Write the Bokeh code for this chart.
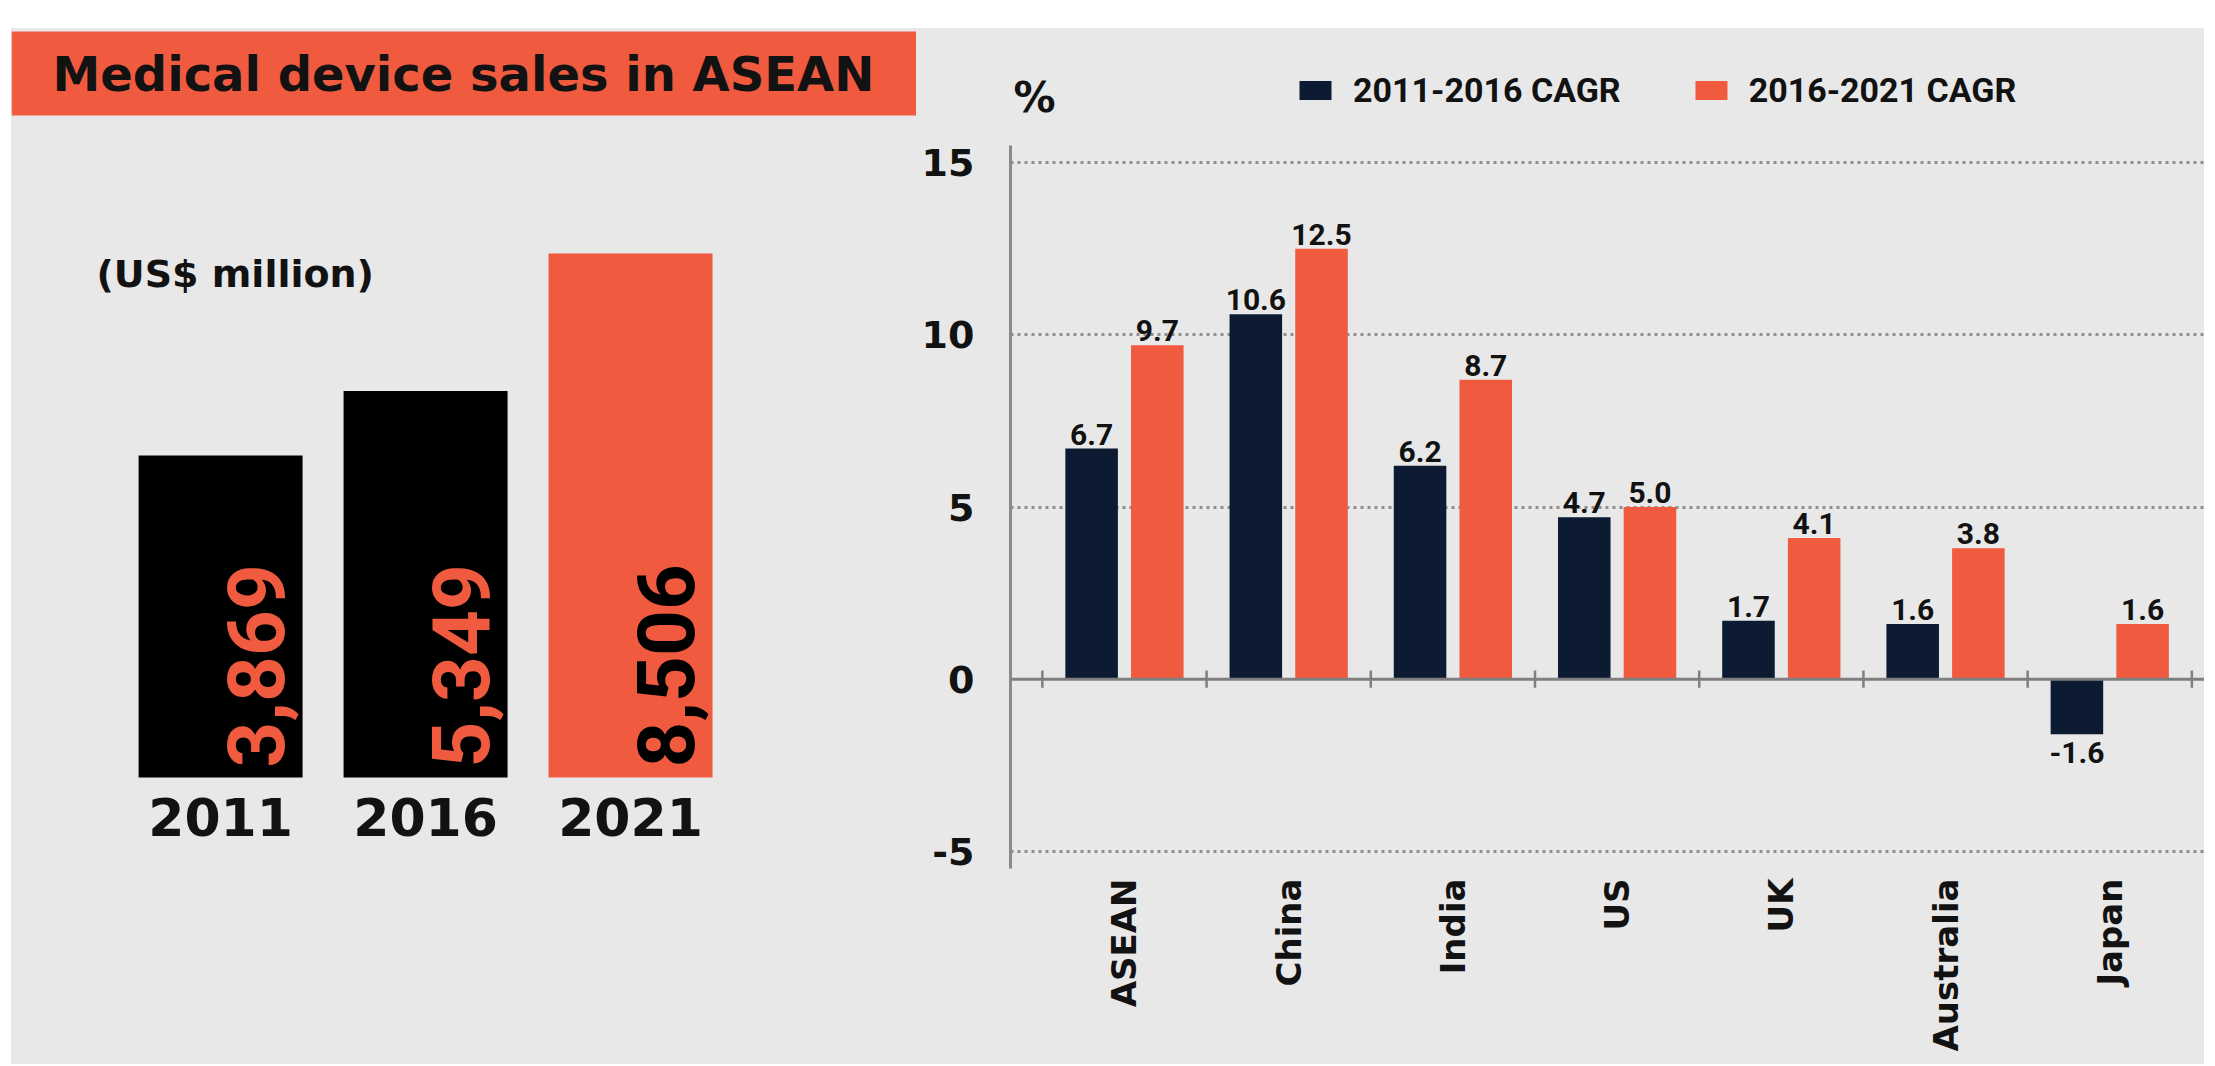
import math
from bokeh.plotting import figure
from bokeh.models import ColumnDataSource, Range1d, Label, Span, FixedTicker, Spacer
from bokeh.layouts import row, column
from bokeh.transform import dodge
from bokeh.core.properties import value
from bokeh.embed import file_html
from bokeh.resources import INLINE

# ---------------- data ----------------
title_text = "Medical device sales in ASEAN"
unit_text = "(US$ million)"
years = ["2011", "2016", "2021"]
sales = [3869, 5349, 8506]

countries = ["ASEAN", "China", "India", "US", "UK", "Australia", "Japan"]
cagr_2011_2016 = [6.7, 10.6, 6.2, 4.7, 1.7, 1.6, -1.6]
cagr_2016_2021 = [9.7, 12.5, 8.7, 5.0, 4.1, 3.8, 1.6]
pct_ticks = [-5, 0, 5, 10, 15]
series_names = ["2011-2016 CAGR", "2016-2021 CAGR"]

# ---------------- style ----------------
ORANGE = "#f05b40"
NAVY = "#0c1a32"
BLACK = "#000000"
BG = "#e8e8e8"
INK = "#121212"
BIG = "DejaVu Sans"
NARROW = "Roboto"
AXIS_GRAY = "#7f7f7f"

FIG_H = 1036
FRAME_H = 840
BOTTOM_BORDER = FIG_H - FRAME_H

# visual floor of the (not-to-scale) infographic bars
sales_floor = -3525

# ---------------- left panel ----------------
left = figure(width=905, height=FIG_H,
              x_range=Range1d(-1.020, 3.395), y_range=Range1d(-5615, 13674),
              x_axis_location=None, y_axis_location=None,
              output_backend="svg", toolbar_location=None,
              min_border_left=0, min_border_right=0, min_border_top=0,
              min_border_bottom=BOTTOM_BORDER)
left.background_fill_color = BG
left.border_fill_color = BG
left.outline_line_color = None
left.grid.visible = False

bar_fill = [BLACK if i < len(years) - 1 else ORANGE for i in range(len(years))]
lab_fill = [ORANGE if i < len(years) - 1 else BLACK for i in range(len(years))]
src_l = ColumnDataSource(dict(x=list(range(len(years))), top=sales, year=years,
                              label=[f"{v:,}" for v in sales],
                              fill=bar_fill, lab=lab_fill))
left.vbar(x="x", top="top", bottom=sales_floor, width=0.8, source=src_l,
          fill_color="fill", line_color=None)
left.text(x=dodge("x", 0.4, range=left.x_range), y=sales_floor, text="label", source=src_l,
          angle=math.pi / 2, text_align="left", text_baseline="middle",
          x_offset=-47, y_offset=-10, text_color="lab",
          text_font=value(NARROW), text_font_style="bold", text_font_size="80px")
left.text(x="x", y=sales_floor, text="year", source=src_l,
          text_align="center", text_baseline="middle", y_offset=40,
          text_color=INK, text_font=value(BIG), text_font_style="bold",
          text_font_size="52px")

left.add_layout(Label(x=0, y=795, x_units="screen", y_units="screen", text=title_text,
                      text_baseline="middle", text_color=INK, text_font=BIG,
                      text_font_style="bold", text_font_size="48px",
                      background_fill_color=ORANGE,
                      padding=dict(left=41, right=46, top=14, bottom=14)))
left.add_layout(Label(x=85, y=595, x_units="screen", y_units="screen", text=unit_text,
                      text_baseline="middle", text_color=INK, text_font=BIG,
                      text_font_style="bold", text_font_size="38px"))

# ---------------- right panel ----------------
right = figure(width=1288, height=FIG_H,
               x_range=Range1d(-0.694, 6.577), y_range=Range1d(-5.5, 18.9),
               output_backend="svg", toolbar_location=None,
               min_border_left=94, min_border_right=0, min_border_top=0,
               min_border_bottom=BOTTOM_BORDER)
right.background_fill_color = BG
right.border_fill_color = BG
right.outline_line_color = None

idx = list(range(len(countries)))
src_r = ColumnDataSource(dict(x=idx, a=cagr_2011_2016, b=cagr_2016_2021))

right.ygrid.ticker = FixedTicker(ticks=[t for t in pct_ticks if t != 0])
right.ygrid.grid_line_color = "#8f8f8f"
right.ygrid.grid_line_dash = "3 4"
right.ygrid.grid_line_width = 3
right.xgrid.visible = False

right.add_layout(Span(location=0, dimension="width", line_color=AXIS_GRAY, line_width=3))

right.vbar(x=dodge("x", -0.2, range=right.x_range), top="a", width=0.32, source=src_r,
           fill_color=NAVY, line_color=None, legend_label=series_names[0])
right.vbar(x=dodge("x", 0.2, range=right.x_range), top="b", width=0.32, source=src_r,
           fill_color=ORANGE, line_color=None, legend_label=series_names[1])

bounds = [i - 0.5 for i in range(len(countries) + 1)]
right.segment(x0=bounds, y0=[-0.25] * len(bounds), x1=bounds, y1=[0.25] * len(bounds),
              line_color=AXIS_GRAY, line_width=2.5)

# value labels
for vals, off in ((cagr_2011_2016, -0.2), (cagr_2016_2021, 0.2)):
    pos = [(i + off, v) for i, v in zip(idx, vals) if v >= 0]
    neg = [(i + off, v) for i, v in zip(idx, vals) if v < 0]
    if pos:
        right.text(x=[p[0] for p in pos], y=[p[1] for p in pos],
                   text=[f"{p[1]:.1f}" for p in pos], text_align="center",
                   text_baseline="bottom", y_offset=-4, text_color=INK,
                   text_font=value(NARROW), text_font_style="bold", text_font_size="30px")
    if neg:
        right.text(x=[p[0] for p in neg], y=[p[1] for p in neg],
                   text=[f"{p[1]:.1f}" for p in neg], text_align="center",
                   text_baseline="top", y_offset=8, text_color=INK,
                   text_font=value(NARROW), text_font_style="bold", text_font_size="30px")

# axes
xa = right.xaxis[0]
xa.ticker = FixedTicker(ticks=idx)
xa.major_label_overrides = {i: c for i, c in zip(idx, countries)}
xa.major_label_orientation = math.pi / 2
xa.axis_line_color = None
xa.major_tick_line_color = None
xa.minor_tick_line_color = None
xa.major_label_standoff = 4
xa.major_label_text_font = BIG
xa.major_label_text_font_style = "bold"
xa.major_label_text_font_size = "34px"
xa.major_label_text_color = INK

ya = right.yaxis[0]
ya.ticker = FixedTicker(ticks=pct_ticks)
ya.major_label_overrides = {t: str(t) for t in pct_ticks}
ya.bounds = (-5.55, 15.5)
ya.axis_line_color = "#8a8a8a"
ya.axis_line_width = 3
ya.major_tick_line_color = None
ya.minor_tick_line_color = None
ya.major_label_standoff = 30
ya.major_label_text_font = BIG
ya.major_label_text_font_style = "bold"
ya.major_label_text_font_size = "38px"
ya.major_label_text_color = INK

right.add_layout(Label(x=-0.676, y=16.9, text="%", text_baseline="middle",
                       text_color=INK, text_font=BIG, text_font_style="bold",
                       text_font_size="42px"))

lg = right.legend[0]
lg.location = (285, 758)
lg.orientation = "horizontal"
lg.background_fill_alpha = 0
lg.border_line_color = None
lg.padding = 0
lg.margin = 0
lg.spacing = 70
lg.glyph_width = 40
lg.glyph_height = 24
lg.label_height = 34
lg.label_standoff = 18
lg.label_text_font = NARROW
lg.label_text_font_style = "bold"
lg.label_text_font_size = "34px"
lg.label_text_color = INK
lg.label_text_baseline = "middle"

layout = column(Spacer(width=10, height=28),
                row(Spacer(width=11, height=FIG_H, styles={"background-color": "#ffffff"}),
                    left, right, styles={"background-color": BG}))
open("out.html", "w").write(file_html(layout, INLINE))
